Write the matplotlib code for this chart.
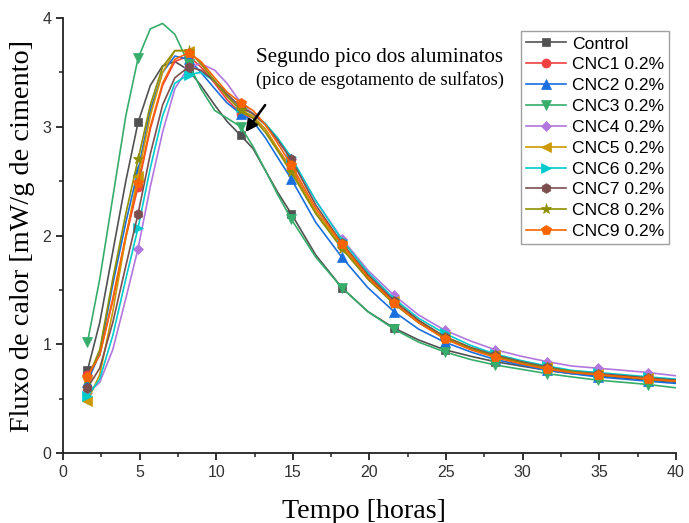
import matplotlib
matplotlib.use("Agg")
import matplotlib.pyplot as plt
from matplotlib.ticker import MultipleLocator

# time grid (hours)
tempo = [1.6, 2.4, 3.25, 4.1, 4.9, 5.7, 6.5, 7.3, 8.2, 9.0, 9.9, 10.7, 11.6, 12.4, 13.2, 14.0,
         14.9, 16.5, 18.2, 19.9, 21.6, 23.2, 24.9, 26.6, 28.2, 29.9, 31.6, 33.2, 34.9, 36.6, 38.2, 40.0]
marker_idx = [0, 4, 8, 12, 16, 18, 20, 22, 24, 26, 28, 30]

control = [0.76, 1.2, 1.85, 2.5, 3.04, 3.38, 3.56, 3.6, 3.52, 3.38, 3.2, 3.05, 2.92, 2.8, 2.6, 2.4,
           2.2, 1.82, 1.52, 1.3, 1.15, 1.04, 0.95, 0.89, 0.84, 0.8, 0.76, 0.73, 0.71, 0.69, 0.67, 0.65]
cnc1 = [0.72, 0.9, 1.4, 1.98, 2.45, 2.98, 3.38, 3.6, 3.65, 3.55, 3.4, 3.25, 3.12, 3.08, 2.98, 2.8,
        2.62, 2.22, 1.9, 1.6, 1.38, 1.2, 1.06, 0.96, 0.89, 0.83, 0.78, 0.74, 0.72, 0.7, 0.68, 0.66]
cnc2 = [0.65, 0.92, 1.55, 2.12, 2.6, 3.15, 3.5, 3.65, 3.62, 3.5, 3.35, 3.22, 3.12, 3.05, 2.9, 2.72,
        2.52, 2.12, 1.8, 1.52, 1.3, 1.14, 1.02, 0.93, 0.86, 0.81, 0.76, 0.73, 0.7, 0.68, 0.66, 0.64]
cnc3 = [1.02, 1.6, 2.35, 3.1, 3.63, 3.9, 3.95, 3.85, 3.58, 3.35, 3.15, 3.08, 3.0, 2.82, 2.6, 2.38,
        2.15, 1.8, 1.52, 1.3, 1.14, 1.02, 0.93, 0.86, 0.81, 0.77, 0.73, 0.7, 0.67, 0.65, 0.63, 0.6]
cnc4 = [0.55, 0.65, 0.95, 1.42, 1.88, 2.45, 2.95, 3.35, 3.55, 3.58, 3.52, 3.4, 3.22, 3.12, 3.02, 2.88,
        2.7, 2.32, 1.97, 1.68, 1.45, 1.27, 1.13, 1.03, 0.95, 0.89, 0.84, 0.8, 0.78, 0.76, 0.74, 0.71]
cnc5 = [0.48, 0.72, 1.3, 1.98, 2.55, 3.1, 3.5, 3.7, 3.7, 3.58, 3.42, 3.28, 3.15, 3.1, 2.98, 2.8,
        2.6, 2.22, 1.9, 1.62, 1.4, 1.22, 1.07, 0.97, 0.9, 0.84, 0.79, 0.75, 0.73, 0.71, 0.69, 0.67]
cnc6 = [0.52, 0.68, 1.08, 1.6, 2.07, 2.62, 3.1, 3.4, 3.48, 3.5, 3.42, 3.3, 3.18, 3.12, 3.03, 2.9,
        2.72, 2.32, 1.96, 1.66, 1.42, 1.24, 1.1, 0.99, 0.91, 0.85, 0.8, 0.76, 0.74, 0.72, 0.7, 0.68]
cnc7 = [0.6, 0.78, 1.2, 1.72, 2.2, 2.75, 3.2, 3.45, 3.55, 3.52, 3.42, 3.3, 3.18, 3.12, 3.02, 2.88,
        2.7, 2.28, 1.93, 1.64, 1.4, 1.22, 1.07, 0.97, 0.9, 0.84, 0.79, 0.75, 0.73, 0.71, 0.69, 0.67]
cnc8 = [0.68, 0.95, 1.6, 2.2, 2.7, 3.2, 3.55, 3.7, 3.7, 3.58, 3.42, 3.28, 3.15, 3.08, 2.95, 2.78,
        2.58, 2.2, 1.88, 1.6, 1.37, 1.2, 1.06, 0.96, 0.89, 0.83, 0.78, 0.75, 0.72, 0.7, 0.68, 0.66]
cnc9 = [0.7, 0.9, 1.42, 2.0, 2.48, 3.0, 3.4, 3.62, 3.68, 3.6, 3.45, 3.32, 3.22, 3.15, 3.02, 2.85,
        2.65, 2.25, 1.92, 1.62, 1.38, 1.2, 1.05, 0.95, 0.88, 0.82, 0.77, 0.74, 0.72, 0.7, 0.68, 0.66]

labels = ["Control", "CNC1 0.2%", "CNC2 0.2%", "CNC3 0.2%", "CNC4 0.2%", "CNC5 0.2%",
          "CNC6 0.2%", "CNC7 0.2%", "CNC8 0.2%", "CNC9 0.2%"]
series = [control, cnc1, cnc2, cnc3, cnc4, cnc5, cnc6, cnc7, cnc8, cnc9]
colors = ["#515151", "#F14040", "#1A6FDF", "#37AD6B", "#B177DE", "#CC9900",
          "#00CBCC", "#7D4E4E", "#8E8E00", "#FB6501"]
markers = ["s", "o", "^", "v", "D", "<", ">", "h", "*", "p"]
msizes = [6, 6.5, 6.5, 6.5, 5.5, 6.5, 6.5, 7, 8, 7.5]

fig = plt.figure(figsize=(6.89, 5.23), dpi=100)
ax = fig.add_axes([0.0914, 0.1338, 0.8896, 0.8318])

for y, lab, c, m, ms in zip(series, labels, colors, markers, msizes):
    ax.plot(tempo, y, color=c, lw=1.2, marker=m, ms=ms, markevery=marker_idx,
            markeredgewidth=0.5, label=lab)

ax.set_xlim(0, 40)
ax.set_ylim(0, 4)
ax.xaxis.set_major_locator(MultipleLocator(5))
ax.xaxis.set_minor_locator(MultipleLocator(2.5))
ax.yaxis.set_major_locator(MultipleLocator(1))
ax.yaxis.set_minor_locator(MultipleLocator(0.5))
for s in ["top", "right"]:
    ax.spines[s].set_visible(False)
for s in ["left", "bottom"]:
    ax.spines[s].set_linewidth(1.3)
    ax.spines[s].set_color("#222222")
ax.tick_params(which="major", direction="out", length=5, width=1.3, labelsize=11.5,
               colors="#222222", labelcolor="#333333")
ax.tick_params(which="minor", direction="out", length=3, width=1.1, colors="#222222")
for lbl in ax.get_xticklabels() + ax.get_yticklabels():
    lbl.set_family("Liberation Sans")

ax.set_xlabel("Tempo [horas]", family="Liberation Serif", fontsize=20.2)
ax.set_ylabel("Fluxo de calor [mW/g de cimento]", family="Liberation Serif", fontsize=20.3,
              labelpad=5)
ax.xaxis.set_label_coords(0.4905, -0.105)

leg = ax.legend(loc="upper right", bbox_to_anchor=(0.989, 0.970), borderaxespad=0,
                frameon=True, fancybox=False,
                handlelength=2.3, handletextpad=0.3, labelspacing=0.32, borderpad=0.3,
                prop={"family": "Liberation Sans", "size": 12.6})
leg.get_frame().set_edgecolor("#888888")
leg.get_frame().set_linewidth(1.0)

ax.text(12.6, 3.64, "Segundo pico dos aluminatos", family="Liberation Serif", fontsize=15.1,
        ha="left", va="center")
ax.text(12.6, 3.43, "(pico de esgotamento de sulfatos)", family="Liberation Serif", fontsize=13.2,
        ha="left", va="center")
ax.annotate("", xy=(11.8, 2.93), xytext=(13.3, 3.22),
            arrowprops=dict(arrowstyle="-|>,head_length=0.7,head_width=0.35", color="black",
                            lw=1.8))

fig.savefig("out.png", dpi=100)
